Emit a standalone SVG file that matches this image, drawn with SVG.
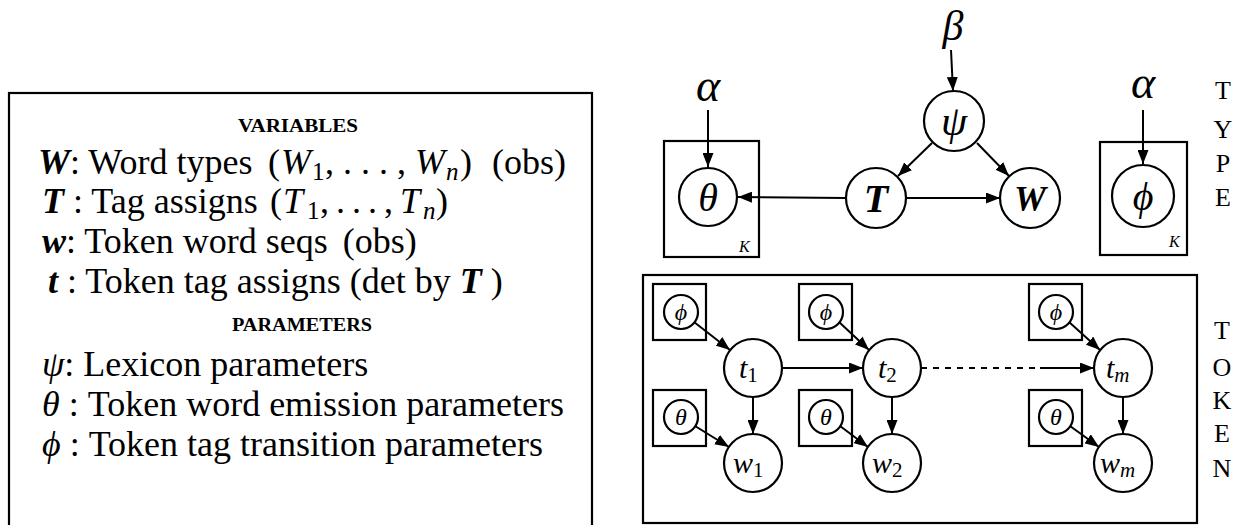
<svg xmlns="http://www.w3.org/2000/svg" width="1239" height="525" viewBox="0 0 1239 525">
<defs>
<style>
.t{font-family:"Liberation Serif","Times New Roman",serif;fill:#000}
.lt{font-size:36px}
.hd{font-size:18px;font-weight:bold}
.bi{font-weight:bold;font-style:italic}
.it{font-style:italic}
.sub{font-size:25px}
.sh{fill:none;stroke:#000;stroke-width:2.2}
.ed{fill:none;stroke:#000;stroke-width:2;marker-end:url(#ah)}
.ln{fill:none;stroke:#000;stroke-width:2}
.cap{font-size:26px;text-anchor:middle}
.mid{text-anchor:middle}
.kk{font-size:16px;font-style:italic}
</style>
<marker id="ah" viewBox="0 0 14 11" refX="14" refY="5.5" markerWidth="14" markerHeight="11" markerUnits="userSpaceOnUse" orient="auto">
<path d="M0,0 L14,5.5 L0,11 Z" fill="#000"/>
</marker>
</defs>
<rect width="1239" height="525" fill="#fff"/>

<g id="legend">
<rect class="sh" x="9" y="93" width="583" height="440"/>
<text class="t hd" x="238" y="132" textLength="120" lengthAdjust="spacingAndGlyphs">VARIABLES</text>
<text class="t lt" x="38" y="174"><tspan class="bi">W</tspan>: Word types<tspan x="268">(</tspan><tspan class="it" x="281">W</tspan><tspan class="sub" x="312" y="180">1</tspan><tspan x="325" y="174">,</tspan><tspan x="343">.</tspan><tspan x="361">.</tspan><tspan x="379">.</tspan><tspan x="397">,</tspan><tspan class="it" x="415">W</tspan><tspan class="it sub" x="446" y="180">n</tspan><tspan x="460" y="174">)</tspan><tspan x="492">(obs)</tspan></text>
<text class="t lt" x="42" y="213"><tspan class="bi">T</tspan> : Tag assigns<tspan x="270">(</tspan><tspan class="it" x="283">T</tspan><tspan class="sub" x="307" y="219">1</tspan><tspan x="320" y="213">,</tspan><tspan x="336">.</tspan><tspan x="352">.</tspan><tspan x="368">.</tspan><tspan x="384">,</tspan><tspan class="it" x="400">T</tspan><tspan class="it sub" x="423" y="219">n</tspan><tspan x="436" y="213">)</tspan></text>
<text class="t lt" x="42" y="253"><tspan class="bi">w</tspan>: Token word seqs <tspan dx="6">(obs)</tspan></text>
<text class="t lt" x="48" y="293"><tspan class="bi">t</tspan> : Token tag assigns (det by <tspan class="bi">T</tspan> )</text>
<text class="t hd" x="232" y="331" textLength="140" lengthAdjust="spacingAndGlyphs">PARAMETERS</text>
<text class="t lt" x="42" y="376"><tspan class="it">ψ</tspan>: Lexicon parameters</text>
<text class="t lt" x="42" y="416"><tspan class="it">θ</tspan> : Token word emission parameters</text>
<text class="t lt" x="42" y="456"><tspan class="it">ϕ</tspan> : Token tag transition parameters</text>
</g>

<g id="type-level">
<g id="beta"><text class="t it mid" x="953" y="40" font-size="42">β</text></g>
<g id="alpha1"><text class="t it mid" x="708" y="101" font-size="46">α</text></g>
<g id="alpha2"><text class="t it mid" x="1143" y="98" font-size="46">α</text></g>
<g id="plate-theta"><rect class="sh" x="664" y="141" width="95" height="116"/><text class="t kk" x="739" y="252">K</text></g>
<g id="node-theta"><circle class="sh" cx="708" cy="197" r="29"/><text class="t it mid" x="708" y="211" font-size="40">θ</text></g>
<g id="node-psi"><circle class="sh" cx="954" cy="121" r="30"/><text class="t it mid" x="954" y="135" font-size="42">ψ</text></g>
<g id="node-T"><circle class="sh" cx="876" cy="198" r="30"/><text class="t bi mid" x="876" y="212" font-size="40">T</text></g>
<g id="node-W"><circle class="sh" cx="1030" cy="198" r="30"/><text class="t bi mid" x="1030" y="211" font-size="36">W</text></g>
<g id="plate-phi"><rect class="sh" x="1100" y="142" width="87" height="113"/><text class="t kk" x="1169" y="247">K</text></g>
<g id="node-phi"><circle class="sh" cx="1143" cy="196" r="31"/><text class="t it mid" x="1143" y="210" font-size="40">ϕ</text></g>
<g id="label-type">
<text class="t cap" x="1223" y="99">T</text>
<text class="t cap" x="1223" y="138">Y</text>
<text class="t cap" x="1223" y="172">P</text>
<text class="t cap" x="1223" y="206">E</text>
</g>
</g>

<g id="token-level">
<rect class="sh" x="643" y="275" width="554" height="248"/>
<g id="plate-phi1"><rect class="sh" x="653" y="284" width="53" height="56"/><circle class="sh" cx="681" cy="312" r="17"/><text class="t it mid" x="681" y="320" font-size="24">ϕ</text></g>
<g id="plate-theta1"><rect class="sh" x="653" y="390" width="53" height="56"/><circle class="sh" cx="681" cy="417" r="17"/><text class="t it mid" x="681" y="425" font-size="24">θ</text></g>
<g id="plate-phi2"><rect class="sh" x="799" y="284" width="53" height="56"/><circle class="sh" cx="826" cy="312" r="17"/><text class="t it mid" x="826" y="320" font-size="24">ϕ</text></g>
<g id="plate-theta2"><rect class="sh" x="799" y="390" width="53" height="56"/><circle class="sh" cx="826" cy="417" r="17"/><text class="t it mid" x="826" y="425" font-size="24">θ</text></g>
<g id="plate-phim"><rect class="sh" x="1029" y="284" width="53" height="56"/><circle class="sh" cx="1056" cy="312" r="17"/><text class="t it mid" x="1056" y="320" font-size="24">ϕ</text></g>
<g id="plate-thetam"><rect class="sh" x="1029" y="390" width="53" height="56"/><circle class="sh" cx="1056" cy="417" r="17"/><text class="t it mid" x="1056" y="425" font-size="24">θ</text></g>
<g id="node-t1"><circle class="sh" cx="753" cy="368" r="29"/><text class="t" x="739" y="378" font-size="30"><tspan class="it">t</tspan><tspan font-size="21" dy="4">1</tspan></text></g>
<g id="node-w1"><circle class="sh" cx="753" cy="463" r="29"/><text class="t" x="733" y="473" font-size="30"><tspan class="it">w</tspan><tspan font-size="21" dy="4">1</tspan></text></g>
<g id="node-t2"><circle class="sh" cx="892" cy="368" r="29"/><text class="t" x="878" y="378" font-size="30"><tspan class="it">t</tspan><tspan font-size="21" dy="4">2</tspan></text></g>
<g id="node-w2"><circle class="sh" cx="892" cy="463" r="29"/><text class="t" x="872" y="473" font-size="30"><tspan class="it">w</tspan><tspan font-size="21" dy="4">2</tspan></text></g>
<g id="node-tm"><circle class="sh" cx="1123" cy="368" r="29"/><text class="t" x="1106" y="378" font-size="30"><tspan class="it">t</tspan><tspan class="it" font-size="21" dy="4">m</tspan></text></g>
<g id="node-wm"><circle class="sh" cx="1123" cy="463" r="29"/><text class="t" x="1100" y="473" font-size="30"><tspan class="it">w</tspan><tspan class="it" font-size="21" dy="4">m</tspan></text></g>
<g id="label-token">
<text class="t cap" x="1222" y="339">T</text>
<text class="t cap" x="1222" y="376">O</text>
<text class="t cap" x="1222" y="409">K</text>
<text class="t cap" x="1222" y="442">E</text>
<text class="t cap" x="1222" y="477">N</text>
</g>
</g>

<g id="connectors">
<line class="ed" x1="951" y1="50" x2="953" y2="91"/>
<line class="ed" x1="708" y1="110" x2="708" y2="167"/>
<line class="ed" x1="1143" y1="110" x2="1143" y2="164"/>
<line class="ed" x1="932" y1="143" x2="898" y2="176"/>
<line class="ed" x1="977" y1="143" x2="1009" y2="176"/>
<line class="ed" x1="846" y1="198" x2="738" y2="197"/>
<line class="ed" x1="906" y1="198" x2="1000" y2="198"/>
<line class="ed" x1="694" y1="322" x2="730" y2="350"/>
<line class="ed" x1="695" y1="426" x2="729" y2="447"/>
<line class="ed" x1="753" y1="397" x2="753" y2="434"/>
<line class="ed" x1="839" y1="322" x2="869" y2="350"/>
<line class="ed" x1="840" y1="426" x2="868" y2="447"/>
<line class="ed" x1="892" y1="397" x2="892" y2="434"/>
<line class="ed" x1="1069" y1="322" x2="1100" y2="350"/>
<line class="ed" x1="1070" y1="426" x2="1099" y2="447"/>
<line class="ed" x1="1123" y1="397" x2="1123" y2="434"/>
<line class="ed" x1="782" y1="368" x2="863" y2="368"/>
<line class="ln" x1="921" y1="368" x2="1040" y2="368" stroke-dasharray="6 6"/>
<line class="ed" x1="1040" y1="368" x2="1094" y2="368"/>
</g>
</svg>
